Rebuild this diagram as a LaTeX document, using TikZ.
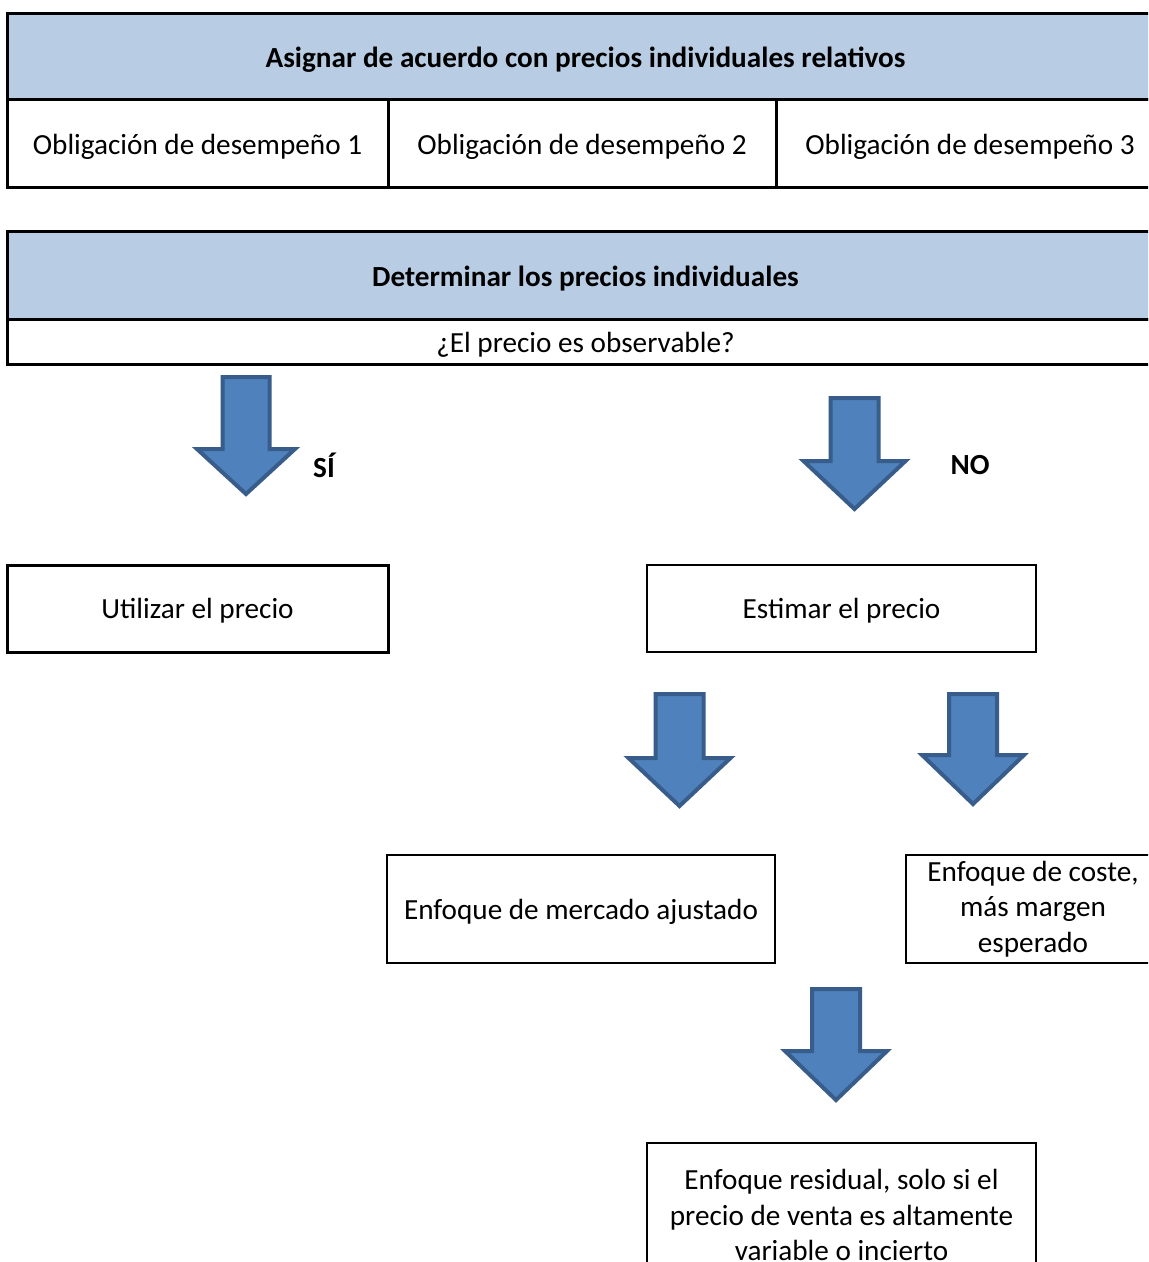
\documentclass[tikz,border=0pt]{standalone}
\usepackage{fontspec}
\setmainfont{Carlito}
\definecolor{hdrblue}{HTML}{B8CCE4}
\definecolor{arrfill}{HTML}{4F81BD}
\definecolor{arrline}{HTML}{385D8A}
\tikzset{
  basebox/.style={draw=black, rectangle, inner sep=0pt, align=center, text=black,
    font=\fontsize{14.6}{17.75}\selectfont},
  oneline/.style={text depth=0pt},
  thickbox/.style={basebox, line width=1.5pt},
  thinbox/.style={basebox, line width=1pt},
  hdrbox/.style={thickbox, oneline, fill=hdrblue, font=\fontsize{14.6}{17.75}\selectfont\bfseries},
  blockarrow/.style={fill=arrfill, draw=arrline, line width=2pt, line join=miter},
  lbl/.style={font=\fontsize{14.6}{17.75}\selectfont\bfseries, inner sep=0pt, text=black}
}
% #1 centre x, #2 shaft top, #3 shoulder, #4 tip, #5 shaft half width, #6 head half width
\newcommand{\blockarr}[6]{%
  \draw[blockarrow] ({#1-#5},#2) -- ({#1+#5},#2) -- ({#1+#5},#3) -- ({#1+#6},#3)
    -- (#1,#4) -- ({#1-#6},#3) -- ({#1-#5},#3) -- cycle;}
\begin{document}
\begin{tikzpicture}[x=0.5pt, y=-0.5pt]
  \useasboundingbox (0,0) rectangle (1148,1262);
  \fill[white] (0,0) rectangle (1148,1262);
  \clip (0,0) rectangle (1148,1262);

  % table 1
  \node[hdrbox, minimum width=578.5pt, minimum height=43pt] (h1) at (585.5,57)
    {Asignar de acuerdo con precios individuales relativos};
  \node[thickbox, oneline, minimum width=190.5pt, minimum height=44pt] (c1) at (197.5,144)
    {Obligación de desempeño 1};
  \node[thickbox, oneline, minimum width=194pt, minimum height=44pt] (c2) at (582,144)
    {Obligación de desempeño 2};
  \node[thickbox, oneline, minimum width=194pt, minimum height=44pt] (c3) at (970,144)
    {Obligación de desempeño 3};

  % table 2
  \node[hdrbox, minimum width=578.5pt, minimum height=44pt] (h2) at (585.5,276)
    {Determinar los precios individuales};
  \node[thickbox, oneline, minimum width=578.5pt, minimum height=22pt] (q) at (585.5,342)
    {¿El precio es observable?};

  % arrows and labels
  \blockarr{246}{377}{449}{494}{23.5}{49}
  \node[lbl] (si) at (324,465) {SÍ};
  \blockarr{854.5}{398}{461}{509}{24}{51}
  \node[lbl] (no) at (970,465) {NO};

  \node[thickbox, oneline, minimum width=190.5pt, minimum height=43.5pt] (use) at (197.5,608.5)
    {Utilizar el precio};
  \node[thinbox, oneline, minimum width=194.5pt, minimum height=43.5pt] (est) at (841.5,608.5)
    {Estimar el precio};

  \blockarr{679.5}{694}{758}{806}{24}{51}
  \blockarr{973}{694}{755}{804}{24}{51}

  \node[thinbox, oneline, minimum width=194pt, minimum height=54pt] (mkt) at (581,909)
    {Enfoque de mercado ajustado};
  \node[thinbox, minimum width=127pt, minimum height=54pt] (cost) at (1033,909)
    {Enfoque de coste,\\ más margen\\ esperado};

  \blockarr{836}{989}{1051}{1100}{24}{51}

  \node[thinbox, minimum width=194.5pt, minimum height=72pt] (res) at (841.5,1215)
    {Enfoque residual, solo si el\\ precio de venta es altamente\\ variable o incierto};
\end{tikzpicture}
\end{document}
